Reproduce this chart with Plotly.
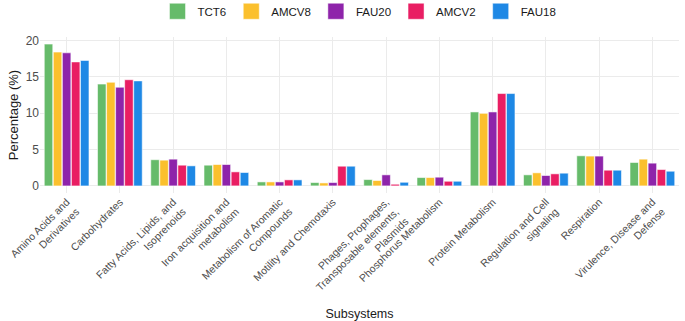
import plotly.graph_objects as go

category_lines = [
    ["Amino Acids and", "Derivatives"],
    ["Carbohydrates"],
    ["Fatty Acids, Lipids, and", "Isoprenoids"],
    ["Iron acquisition and", "metabolism"],
    ["Metabolism of Aromatic", "Compounds"],
    ["Motility and Chemotaxis"],
    ["Phages, Prophages,", "Transposable elements,", "Plasmids"],
    ["Phosphorus Metabolism"],
    ["Protein Metabolism"],
    ["Regulation and Cell", "signaling"],
    ["Respiration"],
    ["Virulence, Disease and", "Defense"],
]

series_names = ["TCT6", "AMCV8", "FAU20", "AMCV2", "FAU18"]
tct6 = [19.5, 14.0, 3.6, 2.85, 0.55, 0.46, 0.87, 1.15, 10.17, 1.52, 4.14, 3.22]
amcv8 = [18.4, 14.25, 3.54, 2.94, 0.55, 0.41, 0.74, 1.15, 9.98, 1.8, 4.1, 3.68]
fau20 = [18.3, 13.57, 3.68, 2.94, 0.55, 0.46, 1.52, 1.2, 10.17, 1.43, 4.1, 3.13]
amcv2 = [17.05, 14.6, 2.85, 1.93, 0.83, 2.71, 0.23, 0.64, 12.7, 1.66, 2.16, 2.25]
fau18 = [17.25, 14.44, 2.76, 1.84, 0.83, 2.71, 0.5, 0.64, 12.7, 1.75, 2.16, 2.02]
series_values = [tct6, amcv8, fau20, amcv2, fau18]
colors = ["#66BB6A", "#FBC02D", "#8E24AA", "#E91E63", "#1E88E5"]

y_ticks = [0, 5, 10, 15, 20]

# Approximate Arial/Liberation Sans glyph widths (per 1000 em) for right-aligning lines
_W = {c: 556 for c in "abdeghnopqu0123456789"}
_W.update({"c": 500, "k": 500, "s": 500, "v": 500, "x": 500, "y": 500, "z": 500,
           "f": 278, "t": 278, "i": 222, "j": 222, "l": 222, "r": 333, "m": 833, "w": 722,
           " ": 278, ",": 278, "A": 667, "C": 722, "D": 722, "F": 611, "I": 278, "L": 556,
           "M": 833, "P": 667, "R": 722, "S": 667, "T": 611, "V": 667})


def _width(s):
    return sum(_W.get(ch, 556) for ch in s)


def right_align(lines):
    if len(lines) == 1:
        return lines[0]
    wmax = max(_width(l) for l in lines)
    out = []
    for l in lines:
        n = int(round((wmax - _width(l)) / 278))
        out.append("\u00a0" * n + l)
    return "<br>".join(out)


categories = [right_align(c) for c in category_lines]

fig = go.Figure()
for name, vals, col in zip(series_names, series_values, colors):
    fig.add_trace(go.Bar(
        x=categories, y=vals, name=name, legendgroup=name, showlegend=False,
        marker=dict(color=col, line=dict(color="rgba(255,255,255,0.7)", width=0.8)),
    ))
# legend keys (larger square swatches)
for name, col in zip(series_names, colors):
    fig.add_trace(go.Scatter(
        x=[None], y=[None], mode="markers", name=name, legendgroup=name,
        marker=dict(symbol="square", size=18, color=col,
                    line=dict(color="rgba(255,255,255,0.6)", width=0.8)),
    ))

font_family = "Liberation Sans, Arial, sans-serif"
fig.update_layout(
    width=685, height=321,
    margin=dict(l=40, r=6, t=37, b=128, autoexpand=False),
    paper_bgcolor="white", plot_bgcolor="white",
    barmode="group", bargap=0.15, bargroupgap=0.06,
    font=dict(family=font_family, color="#4D4D4D"),
    legend=dict(
        orientation="h", x=0.5, xanchor="center", y=1.165, yanchor="middle",
        font=dict(size=11.5, color="#1a1a1a"), itemwidth=30, itemsizing="trace",
        traceorder="normal",
    ),
    xaxis=dict(
        range=[-0.5, 11.5], automargin=False,
        tickangle=-45, tickfont=dict(size=10.5, color="#4D4D4D"),
        showgrid=True, gridcolor="#EBEBEB", gridwidth=1,
        ticks="", zeroline=False, showline=False,
        title=dict(text="Subsystems", font=dict(size=12.5, color="#1a1a1a"), standoff=12),
    ),
    yaxis=dict(
        range=[-0.975, 20.475], automargin=False,
        tickvals=y_ticks, ticktext=[str(v) for v in y_ticks],
        tickfont=dict(size=12, color="#4D4D4D"),
        showgrid=True, gridcolor="#EBEBEB", gridwidth=1,
        zeroline=False, showline=False, ticks="",
        title=dict(text="Percentage (%)", font=dict(size=13, color="#1a1a1a"), standoff=4),
    ),
)

fig.write_html("out.html", config={"displayModeBar": False},
               post_script="document.body.style.margin='0';")
